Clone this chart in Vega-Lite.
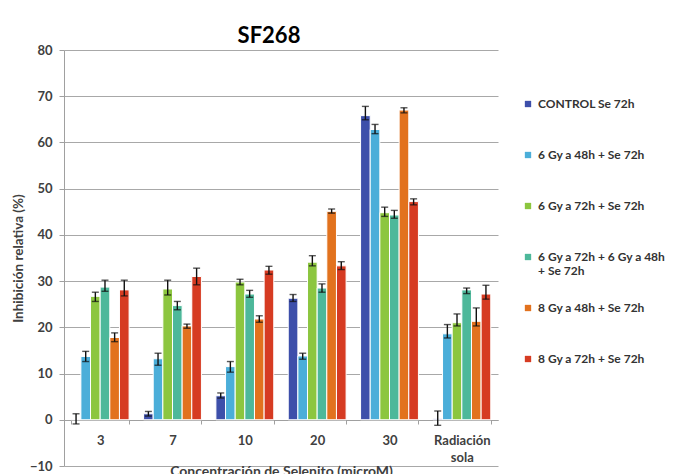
{
  "$schema": "https://vega.github.io/schema/vega-lite/v6.json",
  "autosize": {"type": "none"},
  "padding": {"left": 64, "top": 50, "right": 177, "bottom": 8},
  "width": 434,
  "height": 416,
  "background": "white",
  "title": {"text": "SF268", "fontSize": 22, "font": "Lato", "fontWeight": "bold", "color": "#000000", "anchor": "middle", "dx": -12, "offset": -4},
  "config": {
    "view": {"stroke": null},
    "font": "Lato",
    "axis": {"labelFont": "Lato", "titleFont": "Lato", "labelFontWeight": "bold", "titleFontWeight": "bold", "labelColor": "#404040", "titleColor": "#404040", "domainColor": "#A0A0A0", "tickColor": "#A0A0A0", "gridColor": "#A8A8A8"}
  },
  "data": {"values": [
    {"g": "3", "s": "CONTROL Se 72h", "v": 0.1, "lo": -0.9, "hi": 1.3},
    {"g": "3", "s": "6 Gy a 48h + Se 72h", "v": 13.7, "lo": 12.6, "hi": 14.8},
    {"g": "3", "s": "6 Gy a 72h + Se 72h", "v": 26.7, "lo": 25.6, "hi": 27.6},
    {"g": "3", "s": "6 Gy a 72h + 6 Gy a 48h + Se 72h", "v": 28.7, "lo": 27.8, "hi": 30.2},
    {"g": "3", "s": "8 Gy a 48h + Se 72h", "v": 17.8, "lo": 16.9, "hi": 18.8},
    {"g": "3", "s": "8 Gy a 72h + Se 72h", "v": 28.1, "lo": 26.8, "hi": 30.2},
    {"g": "7", "s": "CONTROL Se 72h", "v": 1.3, "lo": 0.8, "hi": 1.8},
    {"g": "7", "s": "6 Gy a 48h + Se 72h", "v": 13.2, "lo": 11.8, "hi": 14.4},
    {"g": "7", "s": "6 Gy a 72h + Se 72h", "v": 28.3, "lo": 27.0, "hi": 30.2},
    {"g": "7", "s": "6 Gy a 72h + 6 Gy a 48h + Se 72h", "v": 24.7, "lo": 23.8, "hi": 25.6},
    {"g": "7", "s": "8 Gy a 48h + Se 72h", "v": 20.3, "lo": 19.8, "hi": 20.7},
    {"g": "7", "s": "8 Gy a 72h + Se 72h", "v": 31.0, "lo": 29.2, "hi": 32.8},
    {"g": "10", "s": "CONTROL Se 72h", "v": 5.2, "lo": 4.7, "hi": 5.8},
    {"g": "10", "s": "6 Gy a 48h + Se 72h", "v": 11.5, "lo": 10.3, "hi": 12.6},
    {"g": "10", "s": "6 Gy a 72h + Se 72h", "v": 29.8, "lo": 29.2, "hi": 30.4},
    {"g": "10", "s": "6 Gy a 72h + 6 Gy a 48h + Se 72h", "v": 27.2, "lo": 26.5, "hi": 28.0},
    {"g": "10", "s": "8 Gy a 48h + Se 72h", "v": 21.8, "lo": 21.1, "hi": 22.5},
    {"g": "10", "s": "8 Gy a 72h + Se 72h", "v": 32.4, "lo": 31.5, "hi": 33.2},
    {"g": "20", "s": "CONTROL Se 72h", "v": 26.3, "lo": 25.6, "hi": 27.1},
    {"g": "20", "s": "6 Gy a 48h + Se 72h", "v": 13.8, "lo": 13.1, "hi": 14.4},
    {"g": "20", "s": "6 Gy a 72h + Se 72h", "v": 34.1, "lo": 33.3, "hi": 35.5},
    {"g": "20", "s": "6 Gy a 72h + 6 Gy a 48h + Se 72h", "v": 28.5, "lo": 27.6, "hi": 29.4},
    {"g": "20", "s": "8 Gy a 48h + Se 72h", "v": 45.1, "lo": 44.7, "hi": 45.6},
    {"g": "20", "s": "8 Gy a 72h + Se 72h", "v": 33.3, "lo": 32.5, "hi": 34.2},
    {"g": "30", "s": "CONTROL Se 72h", "v": 65.8, "lo": 64.9, "hi": 67.8},
    {"g": "30", "s": "6 Gy a 48h + Se 72h", "v": 62.8, "lo": 61.9, "hi": 63.9},
    {"g": "30", "s": "6 Gy a 72h + Se 72h", "v": 44.8, "lo": 44.0, "hi": 46.0},
    {"g": "30", "s": "6 Gy a 72h + 6 Gy a 48h + Se 72h", "v": 44.3, "lo": 43.6, "hi": 45.3},
    {"g": "30", "s": "8 Gy a 48h + Se 72h", "v": 67.0, "lo": 66.4, "hi": 67.5},
    {"g": "30", "s": "8 Gy a 72h + Se 72h", "v": 47.2, "lo": 46.5, "hi": 47.8},
    {"g": "Radiación sola", "s": "CONTROL Se 72h", "v": 0.2, "lo": -1.2, "hi": 1.9},
    {"g": "Radiación sola", "s": "6 Gy a 48h + Se 72h", "v": 18.6, "lo": 17.7, "hi": 20.6},
    {"g": "Radiación sola", "s": "6 Gy a 72h + Se 72h", "v": 21.0, "lo": 20.3, "hi": 22.9},
    {"g": "Radiación sola", "s": "6 Gy a 72h + 6 Gy a 48h + Se 72h", "v": 28.1, "lo": 27.3, "hi": 28.5},
    {"g": "Radiación sola", "s": "8 Gy a 48h + Se 72h", "v": 21.3, "lo": 20.3, "hi": 24.2},
    {"g": "Radiación sola", "s": "8 Gy a 72h + Se 72h", "v": 27.2, "lo": 26.1, "hi": 29.1}
  ]},
  "encoding": {
    "x": {
      "field": "g", "type": "nominal",
      "sort": ["3", "7", "10", "20", "30", "Radiación sola"],
      "scale": {"paddingInner": 0.2, "paddingOuter": 0.1},
      "axis": {
        "title": "Concentración de Selenito (microM)",
        "titleFontSize": 14, "titlePadding": 0,
        "labelAngle": 0, "labelFontSize": 13, "labelPadding": 10,
        "labelExpr": "datum.label == 'Radiación sola' ? ['Radiación', 'sola'] : datum.label",
        "labelLineHeight": 17,
        "tickBand": "extent", "tickSize": 4, "offset": -46, "grid": false
      }
    },
    "xOffset": {
      "field": "s", "type": "nominal",
      "sort": ["CONTROL Se 72h", "6 Gy a 48h + Se 72h", "6 Gy a 72h + Se 72h", "6 Gy a 72h + 6 Gy a 48h + Se 72h", "8 Gy a 48h + Se 72h", "8 Gy a 72h + Se 72h"],
      "scale": {"paddingInner": 0, "paddingOuter": 0}
    }
  },
  "layer": [
    {
      "mark": {"type": "bar", "stroke": "white", "strokeWidth": 1},
      "encoding": {
        "y": {
          "field": "v", "type": "quantitative",
          "scale": {"domain": [-10, 80], "nice": false, "zero": false},
          "axis": {
            "title": "Inhibición relativa (%)", "titleFontSize": 13.5, "titlePadding": 4,
            "values": [-10, 0, 10, 20, 30, 40, 50, 60, 70, 80],
            "labelFontSize": 13, "labelPadding": 7, "tickSize": 5,
            "grid": true, "gridWidth": 1, "domain": true
          }
        },
        "color": {
          "field": "s", "type": "nominal",
          "scale": {
            "domain": ["CONTROL Se 72h", "6 Gy a 48h + Se 72h", "6 Gy a 72h + Se 72h", "6 Gy a 72h + 6 Gy a 48h + Se 72h", "8 Gy a 48h + Se 72h", "8 Gy a 72h + Se 72h"],
            "range": ["#3D4FAA", "#4BAED9", "#8CC63F", "#4DB89A", "#E2721E", "#D63B22"]
          },
          "legend": {
            "title": null, "orient": "none", "legendX": 458, "legendY": 48,
            "symbolType": "square", "symbolSize": 40, "symbolStrokeWidth": 0,
            "labelFont": "Lato", "labelFontWeight": "bold", "labelFontSize": 12, "labelColor": "#333333",
            "labelOffset": 4, "rowPadding": 25, "gridAlign": "all", "labelLimit": 300,
            "labelExpr": "datum.label == '6 Gy a 72h + 6 Gy a 48h + Se 72h' ? ['6 Gy a 72h + 6 Gy a 48h', '+ Se 72h'] : datum.label"
          }
        }
      }
    },
    {
      "mark": {"type": "rule", "color": "#111111", "strokeWidth": 1.4},
      "encoding": {
        "y": {"field": "lo", "type": "quantitative"},
        "y2": {"field": "hi"}
      }
    },
    {
      "mark": {"type": "tick", "color": "#111111", "thickness": 1.4, "size": 7},
      "encoding": {"y": {"field": "lo", "type": "quantitative"}}
    },
    {
      "mark": {"type": "tick", "color": "#111111", "thickness": 1.4, "size": 7},
      "encoding": {"y": {"field": "hi", "type": "quantitative"}}
    }
  ]
}
